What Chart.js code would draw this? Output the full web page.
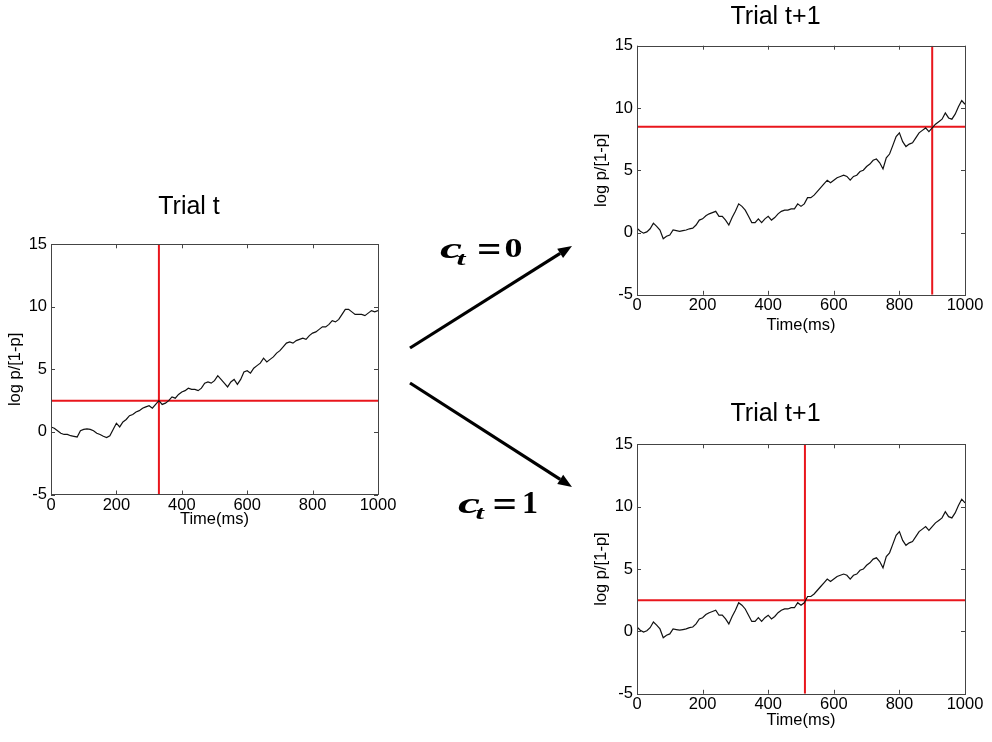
<!DOCTYPE html>
<html>
<head>
<meta charset="utf-8">
<script src="https://cdn.jsdelivr.net/npm/chart.js@4.4.1/dist/chart.umd.min.js"></script>
<style>
html, body { margin: 0; padding: 0; background: #fff; width: 992px; height: 742px; overflow: hidden; }
canvas { position: absolute; }
#overlay { position: absolute; left: 0; top: 0; }
</style>
</head>
<body>

<canvas id="trialT"></canvas>
<canvas id="trialNext0"></canvas>
<canvas id="trialNext1"></canvas>

<svg id="overlay" width="992" height="742">
	<g id="arrowLayer"></g>
	<g font-family="'Liberation Serif', 'Times New Roman', serif" font-weight="bold" fill="#000">
		<text x="440" y="257.7" font-size="29" font-style="italic" textLength="22" lengthAdjust="spacingAndGlyphs">c</text>
		<text x="456.5" y="265.3" font-size="19" font-style="italic" textLength="9" lengthAdjust="spacingAndGlyphs">t</text>
		<text x="477" y="262" font-size="38" textLength="24.5" lengthAdjust="spacingAndGlyphs">=</text>
		<text x="504.5" y="257" font-size="27" textLength="18" lengthAdjust="spacingAndGlyphs">0</text>

		<text x="458" y="512.7" font-size="30" font-style="italic" textLength="22" lengthAdjust="spacingAndGlyphs">c</text>
		<text x="475.5" y="519.3" font-size="19" font-style="italic" textLength="8.5" lengthAdjust="spacingAndGlyphs">t</text>
		<text x="492.5" y="517" font-size="38" textLength="24.5" lengthAdjust="spacingAndGlyphs">=</text>
		<text x="522" y="512.7" font-size="32" textLength="16" lengthAdjust="spacingAndGlyphs">1</text>
	</g>
</svg>

<script>

// time axis (ms), one sample every 10 ms
var timeMs = [0,10,20,30,40,50,60,70,80,90,
	100,110,120,130,140,150,160,170,180,190,
	200,210,220,230,240,250,260,270,280,290,
	300,310,320,330,340,350,360,370,380,390,
	400,410,420,430,440,450,460,470,480,490,
	500,510,520,530,540,550,560,570,580,590,
	600,610,620,630,640,650,660,670,680,690,
	700,710,720,730,740,750,760,770,780,790,
	800,810,820,830,840,850,860,870,880,890,
	900,910,920,930,940,950,960,970,980,990,
	1000];

// log p/[1-p] for trial t
var logOddsTrialT = [0.4,0.3,0.1,-0.1,-0.2,-0.2,-0.3,-0.35,-0.4,0.1,
	0.2,0.25,0.2,0.1,-0.1,-0.2,-0.35,-0.45,-0.3,0.2,
	0.7,0.4,0.8,1.0,1.3,1.4,1.6,1.7,1.9,2.0,
	2.1,1.9,2.2,2.5,2.2,2.3,2.5,2.8,2.7,3.0,
	3.2,3.3,3.5,3.4,3.4,3.3,3.5,3.9,4.0,3.9,
	4.1,4.5,4.2,3.9,3.6,4.0,4.2,3.8,4.2,4.8,
	4.9,4.7,5.1,5.3,5.5,5.9,5.6,5.8,6.0,6.3,
	6.5,6.8,7.1,7.2,7.1,7.3,7.4,7.5,7.4,7.7,
	7.9,8.0,8.2,8.4,8.4,8.6,8.9,8.8,9.0,9.4,
	9.8,9.8,9.6,9.4,9.4,9.4,9.3,9.5,9.7,9.6,
	9.7];

// log p/[1-p] for trial t+1 (same trace in both outcomes)
var logOddsTrialNext = [0.35,0.1,-0.05,0.05,0.3,0.75,0.5,0.2,-0.5,-0.3,
	-0.2,0.2,0.15,0.1,0.15,0.2,0.3,0.35,0.6,1.0,
	1.1,1.35,1.5,1.6,1.7,1.3,1.3,1.0,0.6,1.2,
	1.7,2.3,2.1,1.8,1.3,0.8,0.8,1.1,0.8,1.1,
	1.3,1.0,1.2,1.5,1.7,1.8,1.8,1.9,1.9,2.3,
	2.1,2.3,2.8,2.8,3.0,3.3,3.6,3.9,4.2,4.0,
	4.2,4.4,4.5,4.6,4.5,4.2,4.5,4.6,4.9,5.0,
	5.3,5.5,5.8,5.9,5.6,5.1,6.0,6.3,7.0,7.7,
	8.0,7.3,6.9,7.1,7.2,7.6,8.0,8.2,8.4,8.1,
	8.4,8.7,8.9,9.1,9.6,9.2,9.1,9.5,10.1,10.6,
	10.3];

// decision time (ms) and threshold for each panel
var cutTrialT  = { time: 330, level: 2.5 };
var cutNext0   = { time: 900, level: 8.5 };
var cutNext1   = { time: 512, level: 2.5 };

var xTicks = [0, 200, 400, 600, 800, 1000];
var yTicks = [-5, 0, 5, 10, 15];

Chart.defaults.font.family = "'Liberation Sans', Arial, Helvetica, sans-serif";
Chart.defaults.color = '#000';

var RED = '#e9161c';

// MATLAB style box with inward tick marks
var boxFrame = {
	id: 'boxFrame',
	afterDraw(chart){
		const ctx = chart.ctx;
		const a = chart.chartArea;
		const xs = chart.scales.x, ys = chart.scales.y;
		const tl = 4;
		ctx.save();
		ctx.strokeStyle = '#444';
		ctx.lineWidth = 1;
		ctx.beginPath();
		xTicks.forEach(function(v){
			const px = Math.round(xs.getPixelForValue(v)) + 0.5;
			ctx.moveTo(px, a.bottom); ctx.lineTo(px, a.bottom - tl);
			ctx.moveTo(px, a.top); ctx.lineTo(px, a.top + tl);
		});
		yTicks.forEach(function(v){
			const py = Math.round(ys.getPixelForValue(v)) + 0.5;
			ctx.moveTo(a.left, py); ctx.lineTo(a.left + tl, py);
			ctx.moveTo(a.right, py); ctx.lineTo(a.right - tl, py);
		});
		ctx.stroke();
		ctx.strokeRect(Math.round(a.left) + 0.5, Math.round(a.top) + 0.5,
			Math.round(a.right - a.left), Math.round(a.bottom - a.top));
		ctx.restore();
	}
};

function makeTrial(id, box, title, series, cut){

	const cv = document.getElementById(id);
	cv.width = box.w; cv.height = box.h;
	cv.style.left = box.left + 'px';
	cv.style.top = box.top + 'px';
	cv.style.width = box.w + 'px';
	cv.style.height = box.h + 'px';

	const tickFont = { size: 16.5 };

	return new Chart(cv, {
		type: 'line',
		data: {
			datasets: [{
				data: timeMs.map(function(t, i){ return { x: t, y: series[i] }; }),
				borderColor: '#111',
				borderWidth: 1.2,
				pointRadius: 0,
				tension: 0
			},{
				data: [{ x: cut.time, y: -5 }, { x: cut.time, y: 15 }],
				borderColor: RED,
				borderWidth: 2,
				pointRadius: 0
			},{
				data: [{ x: 0, y: cut.level }, { x: 1000, y: cut.level }],
				borderColor: RED,
				borderWidth: 2,
				pointRadius: 0
			}]
		},
		options: {
			responsive: false,
			animation: false,
			events: [],
			layout: { padding: { left: 0, right: box.padRight, top: 0, bottom: 0 } },
			plugins: {
				legend: { display: false },
				tooltip: { enabled: false },
				title: {
					display: true,
					text: title,
					color: '#000',
					font: { size: 25, weight: 'normal' },
					padding: { top: box.titleTop, bottom: box.titleBottom }
				}
			},
			scales: {
				x: {
					type: 'linear',
					min: 0,
					max: 1000,
					afterBuildTicks: function(s){ s.ticks = xTicks.map(function(v){ return { value: v }; }); },
					afterFit: function(s){ s.height = box.xh; },
					ticks: { font: tickFont, color: '#000', padding: 1, maxRotation: 0, autoSkip: false,
						callback: function(v){ return String(v); } },
					grid: { display: false, drawTicks: false },
					border: { display: false },
					title: { display: true, text: 'Time(ms)', color: '#000', font: tickFont, padding: 0 }
				},
				y: {
					min: -5,
					max: 15,
					afterBuildTicks: function(s){ s.ticks = yTicks.map(function(v){ return { value: v }; }); },
					afterFit: function(s){ s.width = 51; },
					ticks: { font: tickFont, color: '#000', padding: 4,
						callback: function(v){ return String(v); } },
					grid: { display: false, drawTicks: false },
					border: { display: false },
					title: { display: true, text: 'log p/[1-p]', color: '#000', font: tickFont, padding: { top: 5.5, bottom: 0 } }
				}
			}
		},
		plugins: [boxFrame]
	});
}

makeTrial('trialT',
	{ left: 0, top: 185, w: 441, h: 344, padRight: 63, titleTop: 6.7, titleBottom: 22.6, xh: 34.5 },
	'Trial t', logOddsTrialT, cutTrialT);

makeTrial('trialNext0',
	{ left: 586, top: 0, w: 452, h: 335, padRight: 73, titleTop: 1.7, titleBottom: 14, xh: 40.2 },
	'Trial t+1', logOddsTrialNext, cutNext0);

makeTrial('trialNext1',
	{ left: 586, top: 390, w: 452, h: 340, padRight: 73, titleTop: 8.8, titleBottom: 15.5, xh: 36.2 },
	'Trial t+1', logOddsTrialNext, cutNext1);

// arrows between the panels
function arrow(x1, y1, x2, y2){
	const len = Math.hypot(x2 - x1, y2 - y1);
	const ux = (x2 - x1) / len, uy = (y2 - y1) / len;
	const hl = 14, hw = 5.5;
	const bx = x2 - hl * ux, by = y2 - hl * uy;
	const ns = 'http://www.w3.org/2000/svg';
	const g = document.getElementById('arrowLayer');
	const line = document.createElementNS(ns, 'line');
	line.setAttribute('x1', x1); line.setAttribute('y1', y1);
	line.setAttribute('x2', bx); line.setAttribute('y2', by);
	line.setAttribute('stroke', '#000'); line.setAttribute('stroke-width', 3.2);
	g.appendChild(line);
	const head = document.createElementNS(ns, 'polygon');
	head.setAttribute('points', [x2, y2, bx - hw * uy, by + hw * ux, bx + hw * uy, by - hw * ux].join(' '));
	head.setAttribute('fill', '#000');
	g.appendChild(head);
}

arrow(410, 348, 572, 246);
arrow(410, 383, 572, 487);

</script>
</body>
</html>
